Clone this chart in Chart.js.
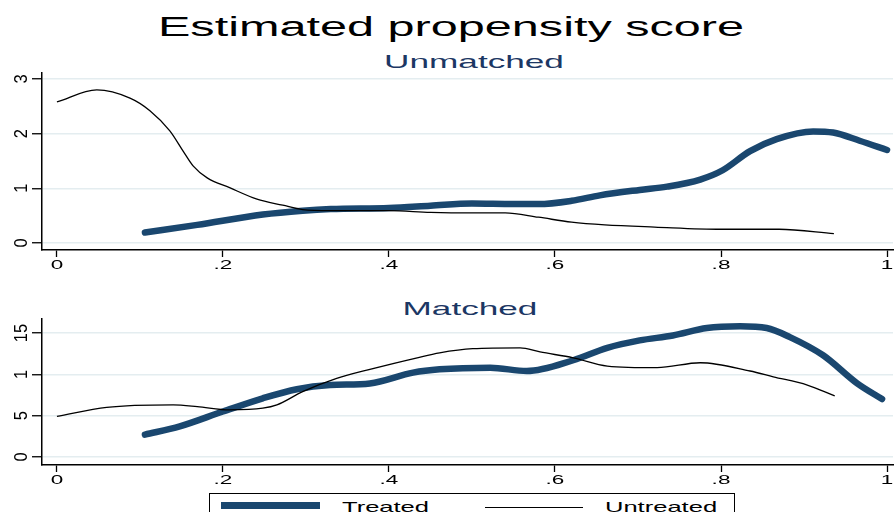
<!DOCTYPE html>
<html>
<head>
<meta charset="utf-8">
<script src="https://cdn.jsdelivr.net/npm/chart.js@4"></script>
<style>
  html, body { margin: 0; padding: 0; background: #fff; overflow: hidden; }
  body { width: 895px; height: 512px; position: relative; font-family: "Liberation Sans", Arial, sans-serif; }
  .txt { position: absolute; white-space: nowrap; line-height: 1; }
  .mainTitle { font-size: 27px; color: #000; left: 451px; top: 13.6px; transform: translateX(-50%) scaleX(1.8); }
  .sub { font-size: 18.5px; color: #1c3764; transform: translateX(-50%) scaleX(1.9); }
  canvas { position: absolute; left: 0; }
  #legendBox { position: absolute; left: 209px; top: 493px; width: 526px; height: 40px; border: 1.5px solid #000; box-sizing: border-box; }
  .swatch { position: absolute; }
  .legTxt { font-size: 14.5px; color: #000; transform-origin: left center; transform: scaleX(1.76); top: 499.6px; }
</style>
</head>
<body>
<div class="txt mainTitle">Estimated propensity score</div>
<div class="txt sub" style="left:473.5px; top:53.3px;">Unmatched</div>
<div class="txt sub" style="left:470px; top:299.6px;">Matched</div>

<canvas id="unmatchedChart" width="895" height="205" style="top:70px;"></canvas>
<canvas id="matchedChart" width="895" height="174" style="top:316px;"></canvas>

<div id="legendBox"></div>
<div class="swatch" style="left:221px; top:502px; width:99px; height:7px; background:#1a476f;"></div>
<div class="txt legTxt" style="left:341.6px;">Treated</div>
<div class="swatch" style="left:485px; top:506.5px; width:98px; height:1.3px; background:#000;"></div>
<div class="txt legTxt" style="left:605px;">Untreated</div>

<script>
// 축 눈금
const xTicks = [0, 0.2, 0.4, 0.6, 0.8, 1];
const xTickLabels = ['0', '.2', '.4', '.6', '.8', '1'];
const unmatchedYTicks = [0, 1, 2, 3];
const unmatchedYLabels = ['0', '1', '2', '3'];
const matchedYTicks = [0, 0.5, 1, 1.5];
const matchedYLabels = ['0', '5', '1', '15'];

// Unmatched - treated
const unmatchedTreatedX = [0.106, 0.169, 0.248, 0.296, 0.33, 0.40, 0.45, 0.50, 0.55, 0.58, 0.62, 0.654, 0.702, 0.735, 0.775, 0.802, 0.835, 0.867, 0.911, 0.935, 0.967, 1.0];
const unmatchedTreatedY = [0.19, 0.33, 0.52, 0.59, 0.62, 0.64, 0.68, 0.72, 0.71, 0.71, 0.77, 0.87, 0.97, 1.03, 1.16, 1.33, 1.68, 1.90, 2.04, 2.02, 1.87, 1.70];

// Unmatched - untreated
const unmatchedUntreatedX = [0, 0.048, 0.088, 0.112, 0.136, 0.152, 0.164, 0.181, 0.208, 0.241, 0.272, 0.296, 0.33, 0.40, 0.45, 0.50, 0.54, 0.58, 0.62, 0.66, 0.72, 0.80, 0.87, 0.936];
const unmatchedUntreatedY = [2.58, 2.80, 2.65, 2.42, 2.05, 1.68, 1.41, 1.19, 1.01, 0.80, 0.69, 0.61, 0.59, 0.59, 0.56, 0.55, 0.55, 0.47, 0.38, 0.33, 0.29, 0.25, 0.25, 0.17];

// Matched - treated
const matchedTreatedX = [0.106, 0.148, 0.2, 0.248, 0.289, 0.329, 0.377, 0.429, 0.461, 0.522, 0.566, 0.622, 0.663, 0.702, 0.742, 0.783, 0.823, 0.855, 0.883, 0.923, 0.964, 0.994];
const matchedTreatedY = [0.27, 0.37, 0.55, 0.71, 0.82, 0.87, 0.89, 1.02, 1.06, 1.08, 1.04, 1.17, 1.32, 1.41, 1.47, 1.56, 1.58, 1.56, 1.45, 1.23, 0.89, 0.70];

// Matched - untreated
const matchedUntreatedX = [0, 0.06, 0.14, 0.169, 0.208, 0.248, 0.265, 0.296, 0.337, 0.377, 0.434, 0.461, 0.501, 0.558, 0.582, 0.622, 0.663, 0.723, 0.775, 0.835, 0.863, 0.904, 0.937];
const matchedUntreatedY = [0.49, 0.60, 0.63, 0.61, 0.57, 0.59, 0.63, 0.79, 0.95, 1.06, 1.20, 1.26, 1.31, 1.32, 1.27, 1.20, 1.10, 1.08, 1.14, 1.04, 0.97, 0.87, 0.74];

const TREATED_COLOR = '#1a476f';
const GRID_COLOR = '#e4edf0';

function toPoints(xs, ys) {
    return xs.map((x, i) => ({ x: x, y: ys[i] }));
}

// 늘어난 눈금 글자 (Stata 느낌)
const stretchLabels = {
    id: 'stretchLabels',
    afterDraw(chart, args, opts) {
        const ctx = chart.ctx;
        const xs = chart.scales.x;
        const ys = chart.scales.y;
        const area = chart.chartArea;
        ctx.save();
        ctx.fillStyle = '#000';
        ctx.textAlign = 'center';
        ctx.textBaseline = 'alphabetic';
        ctx.font = '12.5px "Liberation Sans", Arial, sans-serif';
        xTicks.forEach((v, i) => {
            ctx.save();
            ctx.translate(xs.getPixelForValue(v), area.bottom + 18.5);
            ctx.scale(1.8, 1);
            ctx.fillText(xTickLabels[i], 0, 0);
            ctx.restore();
        });
        ctx.font = '16.5px "Liberation Sans", Arial, sans-serif';
        opts.yTicks.forEach((v, i) => {
            ctx.save();
            ctx.translate(27, ys.getPixelForValue(v));
            ctx.rotate(-Math.PI / 2);
            ctx.scale(1, 1.1);
            ctx.fillText(opts.yLabels[i], 0, 0);
            ctx.restore();
        });
        ctx.restore();
    }
};

function makePanel(canvasId, treated, untreated, yMin, yMax, yTicks, yLabels) {
    const canvas = document.getElementById(canvasId);
    return new Chart(canvas, {
        type: 'line',
        data: {
            datasets: [
                {
                    label: 'Untreated',
                    data: untreated,
                    borderColor: '#000',
                    borderWidth: 1.3,
                    pointRadius: 0,
                    cubicInterpolationMode: 'monotone',
                    fill: false
                },
                {
                    label: 'Treated',
                    data: treated,
                    borderColor: TREATED_COLOR,
                    borderWidth: 6.5,
                    borderCapStyle: 'round',
                    borderJoinStyle: 'round',
                    pointRadius: 0,
                    cubicInterpolationMode: 'monotone',
                    fill: false
                }
            ]
        },
        options: {
            responsive: false,
            animation: false,
            devicePixelRatio: 1,
            layout: { padding: { top: 3, right: 2, left: 0, bottom: 0 } },
            plugins: {
                legend: { display: false },
                title: { display: false },
                tooltip: { enabled: false },
                stretchLabels: { yTicks: yTicks, yLabels: yLabels }
            },
            scales: {
                x: {
                    type: 'linear',
                    min: -0.018,
                    max: 1.0072,
                    afterBuildTicks: (scale) => { scale.ticks = xTicks.map(v => ({ value: v })); },
                    afterFit: (scale) => { scale.height = 25; },
                    ticks: { display: false },
                    grid: { drawOnChartArea: false, tickLength: 7, tickColor: '#000', tickWidth: 1.3 },
                    border: { display: true, color: '#000', width: 1.5 }
                },
                y: {
                    type: 'linear',
                    min: yMin,
                    max: yMax,
                    afterBuildTicks: (scale) => { scale.ticks = yTicks.map(v => ({ value: v })); },
                    afterFit: (scale) => { scale.width = 42; },
                    ticks: { display: false },
                    grid: { color: GRID_COLOR, lineWidth: 1.5, tickLength: 10, tickColor: '#000', tickWidth: 1.3 },
                    border: { display: true, color: '#000', width: 1.5 }
                }
            }
        },
        plugins: [stretchLabels]
    });
}

makePanel('unmatchedChart',
    toPoints(unmatchedTreatedX, unmatchedTreatedY),
    toPoints(unmatchedUntreatedX, unmatchedUntreatedY),
    -0.13, 3.11, unmatchedYTicks, unmatchedYLabels);

makePanel('matchedChart',
    toPoints(matchedTreatedX, matchedTreatedY),
    toPoints(matchedUntreatedX, matchedUntreatedY),
    -0.097, 1.669, matchedYTicks, matchedYLabels);
</script>
</body>
</html>
